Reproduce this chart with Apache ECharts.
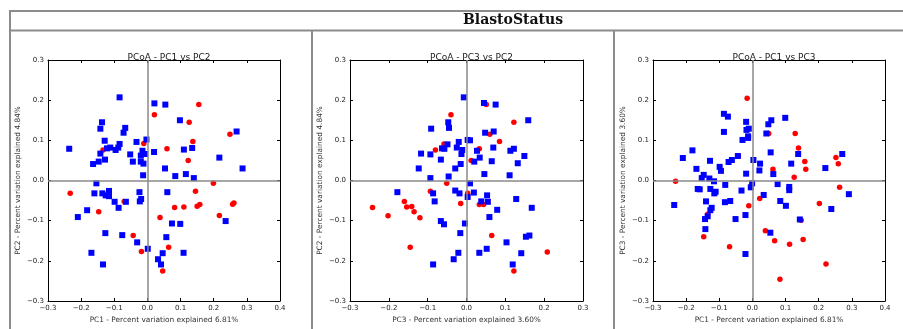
<!DOCTYPE html>
<html>
<head>
<meta charset="utf-8">
<script src="https://cdn.jsdelivr.net/npm/echarts@6/dist/echarts.min.js"></script>
<style>
  html, body { margin: 0; padding: 0; background: #fff; }
  #chart { width: 903px; height: 329px; }
</style>
</head>
<body>
<div id="chart"></div>
<script>
// panel titles / axis names
const panelTitles = ["PCoA - PC1 vs PC2", "PCoA - PC3 vs PC2", "PCoA - PC1 vs PC3"];
const xNames = ["PC1 - Percent variation explained 6.81%", "PC3 - Percent variation explained 3.60%", "PC1 - Percent variation explained 6.81%"];
const yNames = ["PC2 - Percent variation explained 4.84%", "PC2 - Percent variation explained 4.84%", "PC3 - Percent variation explained 3.60%"];
const xMax = [0.4, 0.3, 0.4];

// PC1 vs PC2
const p1Blue = [
  [-0.236, 0.079], [-0.084, 0.207], [-0.137, 0.145], [-0.142, 0.129], [-0.129, 0.099], [-0.142, 0.067],
  [-0.147, 0.047], [-0.164, 0.041], [-0.128, 0.052], [-0.122, 0.080], [-0.112, 0.082], [-0.096, 0.076],
  [-0.088, 0.082], [-0.084, 0.091], [-0.072, 0.119], [-0.067, 0.131], [-0.052, 0.065], [-0.044, 0.047],
  [-0.033, 0.096], [-0.003, 0.102], [-0.015, 0.074], [-0.020, 0.062], [-0.007, 0.066], [-0.020, 0.047],
  [-0.012, 0.042], [-0.013, 0.013], [0.021, 0.192], [0.054, 0.189], [0.020, 0.071], [0.053, 0.030],
  [0.098, 0.150], [0.110, 0.077], [0.135, 0.081], [0.084, 0.011], [0.116, 0.016], [0.140, 0.006],
  [0.217, 0.057], [0.269, 0.122], [0.287, 0.030], [-0.154, -0.007], [-0.160, -0.032], [-0.136, -0.032],
  [-0.126, -0.037], [-0.116, -0.026], [-0.116, -0.039], [-0.099, -0.053], [-0.065, -0.053], [-0.087, -0.068],
  [-0.182, -0.074], [-0.210, -0.091], [-0.024, -0.029], [-0.019, -0.046], [-0.023, -0.052], [0.060, -0.029],
  [0.074, -0.107], [0.099, -0.108], [0.236, -0.101], [-0.127, -0.131], [-0.076, -0.136], [-0.031, -0.154],
  [0.057, -0.141], [0.001, -0.170], [0.046, -0.181], [0.109, -0.180], [-0.169, -0.180], [-0.134, -0.209],
  [0.032, -0.196], [0.041, -0.209]
];
const p1Red = [
  [-0.233, -0.032], [-0.134, 0.076], [-0.011, 0.092], [0.021, 0.164], [0.059, 0.079], [0.155, 0.189],
  [0.126, 0.145], [0.137, 0.097], [0.123, 0.050], [0.249, 0.115], [0.199, -0.007], [0.145, -0.027],
  [0.150, -0.064], [0.158, -0.060], [0.110, -0.066], [0.082, -0.067], [0.257, -0.059], [0.261, -0.056],
  [0.217, -0.087], [-0.147, -0.078], [-0.070, -0.052], [0.038, -0.092], [-0.043, -0.137], [-0.018, -0.177],
  [0.064, -0.166], [0.046, -0.225]
];

// PC3 vs PC2
const p2Blue = [
  [-0.007, 0.207], [0.045, 0.193], [0.075, 0.189], [0.159, 0.150], [-0.091, 0.129], [-0.047, 0.145],
  [-0.045, 0.131], [0.048, 0.119], [0.070, 0.122], [-0.117, 0.067], [-0.093, 0.065], [-0.063, 0.080],
  [-0.057, 0.079], [-0.049, 0.090], [-0.020, 0.096], [0.003, 0.101], [0.009, 0.100], [-0.025, 0.082],
  [-0.011, 0.076], [-0.013, 0.066], [0.027, 0.074], [0.034, 0.057], [0.020, 0.047], [0.069, 0.082],
  [0.065, 0.048], [0.113, 0.074], [0.122, 0.079], [0.149, 0.061], [0.132, 0.043], [0.111, 0.013],
  [0.046, 0.016], [-0.066, 0.052], [-0.123, 0.030], [-0.029, 0.030], [-0.015, 0.041], [-0.046, 0.010],
  [-0.093, 0.006], [-0.178, -0.029], [-0.086, -0.032], [-0.082, -0.052], [-0.029, -0.025], [-0.018, -0.032],
  [0.009, -0.007], [0.003, -0.041], [0.019, -0.030], [0.038, -0.052], [0.053, -0.037], [0.055, -0.053],
  [0.059, -0.091], [0.079, -0.073], [0.128, -0.046], [0.168, -0.068], [-0.066, -0.101], [-0.058, -0.109],
  [-0.004, -0.107], [-0.016, -0.131], [0.103, -0.154], [0.153, -0.140], [0.162, -0.137], [-0.021, -0.180],
  [0.033, -0.180], [0.052, -0.170], [0.141, -0.181], [-0.033, -0.196], [-0.086, -0.209], [0.119, -0.209]
];
const p2Red = [
  [-0.040, 0.164], [0.051, 0.189], [0.122, 0.145], [0.085, 0.097], [0.060, 0.115], [-0.058, 0.091],
  [-0.080, 0.076], [0.033, 0.079], [0.012, 0.050], [-0.051, -0.007], [-0.093, -0.027], [0.003, -0.032],
  [-0.015, -0.057], [0.033, -0.060], [0.044, -0.060], [-0.242, -0.067], [-0.202, -0.088], [-0.160, -0.052],
  [-0.154, -0.066], [-0.141, -0.065], [-0.135, -0.078], [-0.120, -0.093], [-0.145, -0.166], [0.065, -0.137],
  [0.208, -0.178], [0.122, -0.225]
];

// PC1 vs PC3
const p3Blue = [
  [-0.236, -0.061], [-0.210, 0.056], [-0.181, 0.075], [-0.169, 0.029], [-0.147, 0.014], [-0.153, 0.006],
  [-0.165, -0.021], [-0.159, -0.022], [-0.128, 0.049], [-0.130, 0.005], [-0.116, -0.002], [-0.127, -0.021],
  [-0.115, -0.032], [-0.111, -0.028], [-0.140, -0.052], [-0.123, -0.068], [-0.127, -0.074], [-0.135, -0.089],
  [-0.143, -0.096], [-0.142, -0.121], [-0.099, 0.034], [-0.095, 0.024], [-0.086, 0.121], [-0.086, 0.166],
  [-0.074, 0.159], [-0.072, 0.046], [-0.062, 0.051], [-0.044, 0.061], [-0.082, -0.011], [-0.083, -0.054],
  [-0.067, -0.051], [-0.051, -0.096], [-0.030, 0.101], [-0.019, 0.146], [-0.018, 0.126], [-0.011, 0.129],
  [-0.013, 0.110], [-0.013, 0.106], [-0.019, 0.017], [-0.033, -0.025], [-0.021, -0.086], [-0.021, -0.183],
  [-0.005, -0.017], [-0.001, -0.007], [0.003, 0.051], [0.021, 0.025], [0.023, 0.042], [0.034, -0.036],
  [0.042, 0.117], [0.048, 0.140], [0.057, 0.150], [0.055, 0.070], [0.063, 0.016], [0.076, -0.009],
  [0.084, -0.051], [0.054, -0.130], [0.101, -0.063], [0.099, 0.156], [0.111, -0.016], [0.111, -0.024],
  [0.117, 0.042], [0.138, 0.066], [0.143, -0.097], [0.220, 0.031], [0.238, -0.071], [0.271, 0.066],
  [0.291, -0.034]
];
const p3Red = [
  [-0.232, -0.002], [-0.016, 0.205], [0.129, 0.117], [0.139, 0.081], [0.158, 0.047], [0.161, 0.028],
  [0.126, 0.008], [0.062, 0.028], [0.049, 0.117], [-0.043, 0.061], [0.252, 0.057], [0.259, 0.042],
  [0.263, -0.017], [0.202, -0.057], [0.022, -0.045], [-0.011, -0.063], [-0.135, -0.084], [-0.147, -0.140],
  [-0.069, -0.165], [0.039, -0.125], [0.067, -0.150], [0.112, -0.159], [0.153, -0.147], [0.147, -0.099],
  [0.222, -0.208], [0.083, -0.246]
];

const blueSets = [p1Blue, p2Blue, p3Blue];
const redSets = [p1Red, p2Red, p3Red];

const chart = echarts.init(document.getElementById("chart"));

// plot boxes in pixels
const gridLefts = [48, 350, 653];
const gridWidths = [232, 233, 232];

function fmt(v) {
  if (Math.abs(v) < 1e-9) return "0.0";
  return (v < 0 ? "\u2212" : "") + Math.abs(v).toFixed(1);
}

let grids = [], xAxes = [], yAxes = [], series = [], titles = [];
for (let i = 0; i < 3; i++) {
  grids.push({ left: gridLefts[i], top: 60, width: gridWidths[i], height: 241 });
  titles.push({
    text: panelTitles[i],
    left: gridLefts[i] + gridWidths[i] / 2,
    top: 48,
    textAlign: "center",
    textStyle: { fontFamily: "DejaVu Sans", fontSize: 9, fontWeight: "normal", color: "#222" },
  });
  // bottom / left axes carry labels, top / right only ticks
  ["bottom", "top"].forEach((pos) => {
    xAxes.push({
      type: "value", gridIndex: i, position: pos, min: -0.3, max: xMax[i], interval: 0.1,
      name: pos == "bottom" ? xNames[i] : "",
      nameLocation: "middle", nameGap: 14,
      nameTextStyle: { fontFamily: "DejaVu Sans", fontSize: 7.4, color: "#333" },
      axisLine: { show: true, onZero: false, lineStyle: { color: "#000", width: 1 } },
      axisTick: { show: true, inside: true, length: 3, lineStyle: { color: "#000" } },
      axisLabel: { show: pos == "bottom", formatter: fmt, fontFamily: "DejaVu Sans", fontSize: 7, color: "#222", margin: 4 },
      splitLine: { show: false },
    });
  });
  ["left", "right"].forEach((pos) => {
    yAxes.push({
      type: "value", gridIndex: i, position: pos, min: -0.3, max: 0.3, interval: 0.1,
      name: pos == "left" ? yNames[i] : "",
      nameLocation: "middle", nameGap: 26, nameRotate: 90,
      nameTextStyle: { fontFamily: "DejaVu Sans", fontSize: 7.4, color: "#333" },
      axisLine: { show: true, onZero: false, lineStyle: { color: "#000", width: 1 } },
      axisTick: { show: true, inside: true, length: 3, lineStyle: { color: "#000" } },
      axisLabel: { show: pos == "left", formatter: fmt, fontFamily: "DejaVu Sans", fontSize: 7, color: "#222", margin: 4 },
      splitLine: { show: false },
    });
  });
  const xi = i * 2, yi = i * 2;
  // zero lines
  series.push({
    type: "line", xAxisIndex: xi, yAxisIndex: yi, data: [], z: 1, silent: true,
    markLine: {
      silent: true, symbol: "none", label: { show: false },
      lineStyle: { color: "#8a8a8a", width: 1.5, type: "solid" },
      data: [{ xAxis: 0 }, { yAxis: 0 }],
    },
  });
  series.push({
    type: "scatter", xAxisIndex: xi, yAxisIndex: yi, data: redSets[i], z: 3,
    symbol: "circle", symbolSize: 5.5, itemStyle: { color: "#ff0000", opacity: 1 },
  });
  series.push({
    type: "scatter", xAxisIndex: xi, yAxisIndex: yi, data: blueSets[i], z: 4,
    symbol: "rect", symbolSize: 6, itemStyle: { color: "#0000ff", opacity: 1 },
  });
}

const borderStyle = { stroke: "#8c8c8c", lineWidth: 2 };
let option = {
  animation: false,
  title: titles,
  grid: grids,
  xAxis: xAxes,
  yAxis: yAxes,
  series: series,
  graphic: [
    // table frame
    { type: "line", shape: { x1: 10, y1: 11, x2: 903, y2: 11 }, style: borderStyle },
    { type: "line", shape: { x1: 10, y1: 30.5, x2: 903, y2: 30.5 }, style: borderStyle },
    { type: "line", shape: { x1: 10, y1: 10, x2: 10, y2: 329 }, style: borderStyle },
    { type: "line", shape: { x1: 312, y1: 30, x2: 312, y2: 329 }, style: borderStyle },
    { type: "line", shape: { x1: 614, y1: 30, x2: 614, y2: 329 }, style: borderStyle },
    {
      type: "text", left: 463, top: 13,
      style: { text: "BlastoStatus", x: 0, textAlign: "center", font: "bold 14px 'DejaVu Serif'", fill: "#111" },
    },
  ],
};
chart.setOption(option);
</script>
</body>
</html>
